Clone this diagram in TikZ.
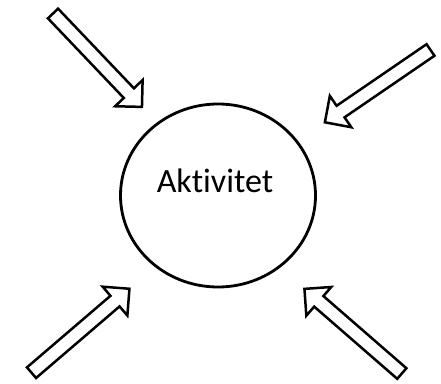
\documentclass[tikz,border=0pt]{standalone}
\usepackage{fontspec}
\setmainfont[Ligatures={NoCommon,NoDiscretionary,NoRare}]{Carlito}
\tikzset{
  blockarrow/.style={draw=black, line width=2.5pt, line join=miter, fill=white},
  activity/.style={draw=black, line width=2.8pt, ellipse, minimum width=195pt, minimum height=183pt, inner sep=0pt},
}
\usetikzlibrary{shapes.geometric}
\newcommand{\blockarr}[3]{%
  \begin{scope}[shift={(#1)}, rotate=#2]
    \draw[blockarrow] (0pt,-7pt) -- ({#3-19pt},-7pt) -- ({#3-19pt},-19pt) -- (#3,0pt) -- ({#3-19pt},19pt) -- ({#3-19pt},7pt) -- (0pt,7pt) -- cycle;
  \end{scope}}
\begin{document}
\begin{tikzpicture}[x=1pt,y=1pt]
\useasboundingbox (0,0) rectangle (441,383);
\node[activity] (act) at (218,187.5) {};
\node[font=\fontsize{34}{40}\selectfont, anchor=base, inner sep=0pt] (lbl) at (215,190) {Akt{}ivitet};
\blockarr{53,369.5}{-46.4}{129pt}
\blockarr{430.5,333}{214.4}{128pt}
\blockarr{31.5,10.3}{40.6}{129pt}
\blockarr{401.8,9.5}{139}{129pt}
\end{tikzpicture}
\end{document}
